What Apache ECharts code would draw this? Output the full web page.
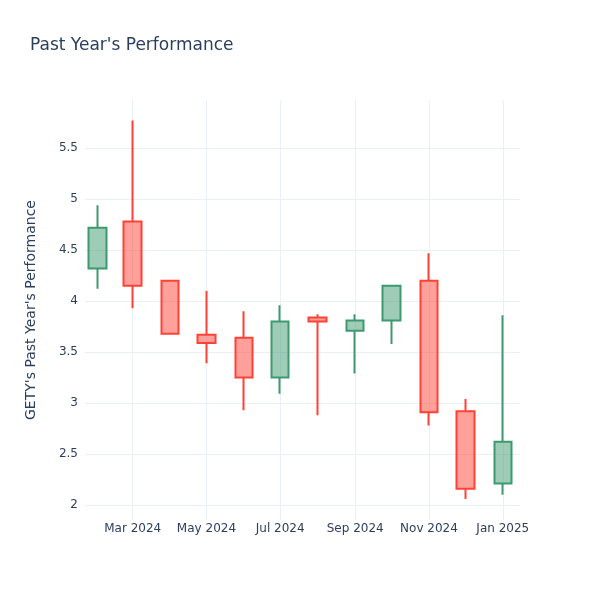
<!DOCTYPE html>
<html>
<head>
<meta charset="utf-8">
<script src="https://cdn.jsdelivr.net/npm/echarts@6/dist/echarts.min.js"></script>
<style>html,body{margin:0;padding:0;background:#fff}#c{width:600px;height:600px}</style>
</head>
<body>
<div id="c"></div>
<script>
const dates  = ['2024-02-01','2024-03-01','2024-04-01','2024-05-01','2024-06-01','2024-07-01','2024-08-01','2024-09-01','2024-10-01','2024-11-01','2024-12-01','2025-01-01'];
const opens  = [4.32, 4.78, 4.20, 3.67, 3.64, 3.25, 3.84, 3.71, 3.81, 4.20, 2.92, 2.21];
const closes = [4.72, 4.15, 3.68, 3.59, 3.25, 3.80, 3.80, 3.81, 4.15, 2.91, 2.16, 2.62];
const lows   = [4.12, 3.93, 3.68, 3.39, 2.93, 3.09, 2.88, 3.29, 3.58, 2.78, 2.06, 2.10];
const highs  = [4.94, 5.77, 4.20, 4.10, 3.90, 3.96, 3.87, 3.87, 4.16, 4.47, 3.04, 3.86];
const monthNames = ['Jan','Feb','Mar','Apr','May','Jun','Jul','Aug','Sep','Oct','Nov','Dec'];

const data = dates.map((d, i) => [d, opens[i], closes[i], lows[i], highs[i]]);
const textColor = '#2a3f5f';
const gridColor = '#ebf0f8';
const font = 'DejaVu Sans';

const chart = echarts.init(document.getElementById('c'), null, {renderer: 'canvas'});
chart.setOption({
  animation: false,
  backgroundColor: '#fff',
  textStyle: {fontFamily: font},
  title: {
    text: "Past Year's Performance",
    left: 25, top: 32,
    textStyle: {fontFamily: font, fontSize: 17, fontWeight: 'normal', color: textColor}
  },
  grid: {left: 85, right: 80, top: 100, bottom: 80, containLabel: false},
  xAxis: {
    type: 'time',
    min: new Date(2024, 0, 21, 14).getTime(),
    max: new Date(2025, 0, 15, 6).getTime(),
    splitNumber: 5,
    axisLine: {show: false},
    axisTick: {show: false},
    axisLabel: {
      color: textColor, fontSize: 12, fontFamily: font, margin: 3,
      formatter: function (v) { const d = new Date(v); return monthNames[d.getMonth()] + ' ' + d.getFullYear(); }
    },
    splitLine: {show: true, showMinLine: false, showMaxLine: false, lineStyle: {color: gridColor, width: 1}}
  },
  yAxis: {
    type: 'value',
    min: 1.853, max: 5.972,
    splitNumber: 8,
    scale: true,
    name: "GETY's Past Year's Performance",
    nameLocation: 'middle',
    nameGap: 47,
    nameTextStyle: {color: textColor, fontSize: 14, fontFamily: font},
    axisLine: {show: false},
    axisTick: {show: false},
    axisLabel: {color: textColor, fontSize: 12, fontFamily: font, margin: 7, showMinLabel: false, showMaxLabel: false},
    splitLine: {show: true, showMinLine: false, showMaxLine: false, lineStyle: {color: gridColor, width: 1}}
  },
  series: [{
    type: 'candlestick',
    data: data,
    encode: {x: 0, y: [1, 2, 3, 4]},
    barWidth: 18,
    itemStyle: {
      color: 'rgba(61,153,112,0.5)',
      color0: 'rgba(255,65,54,0.5)',
      borderColor: '#3D9970',
      borderColor0: '#FF4136',
      borderWidth: 2
    }
  }]
});
</script>
</body>
</html>
